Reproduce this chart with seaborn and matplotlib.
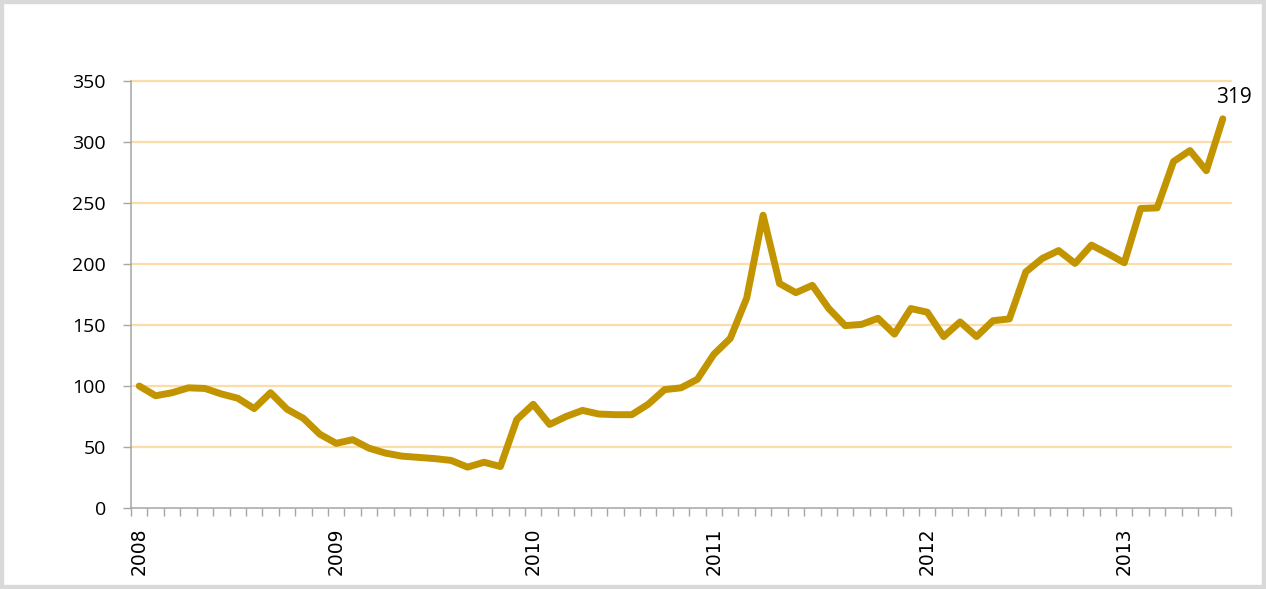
import pandas as pd
import seaborn as sns
import matplotlib.pyplot as plt
import matplotlib.ticker as ticker
from matplotlib.patches import Rectangle

# Monthly index values, Jan 2008 .. Jul 2013
values = [100, 92, 94.5, 98.5, 98, 93.5, 90, 81.5, 94.5, 81, 73.5, 60.5,
          53, 56, 49, 45, 42.5, 41.5, 40.5, 39, 33.5, 37.5, 34,
          72.5, 85, 68.5, 75, 80, 77, 76.5, 76.5, 85, 97, 98.5, 105.5,
          126, 139, 172, 240, 184, 176.5, 182.5, 163.5, 149.5, 150.5, 155.5,
          142.5, 163.5, 160.5, 140.5, 152.5, 140.5, 153.5, 155, 193.5, 204.5,
          211, 200.5, 215.5, 208.5, 201, 245.5, 246, 284, 293, 276.5, 319]
year_labels = ['2008', '2009', '2010', '2011', '2012', '2013']
year_pos = [0, 12, 24, 35, 48, 60]
y_ticks = [0, 50, 100, 150, 200, 250, 300, 350]

df = pd.DataFrame({'month': range(len(values)), 'value': values})

sns.set_style('white')
plt.rcParams['font.family'] = ['Open Sans', 'DejaVu Sans']

fig = plt.figure(figsize=(12.66, 5.89), dpi=100)
ax = fig.add_axes([131 / 1266, 81 / 589, 1100 / 1266, 427 / 589])

# light orange horizontal gridlines
for v in y_ticks[1:]:
    ax.axhline(v, color='#fddcab', lw=1.6, zorder=0, clip_on=False)

sns.lineplot(data=df, x='month', y='value', color='#c29400', linewidth=5,
             ax=ax, zorder=3)

ax.set_xlim(-0.5, len(values) - 0.5)
ax.set_ylim(0, 350)
ax.set_xlabel('')
ax.set_ylabel('')

ax.set_yticks(y_ticks)
ax.set_xticks(year_pos)
ax.set_xticklabels(year_labels, rotation=90, fontsize=13.5,
                   family='DejaVu Sans', va='top')
ax.xaxis.set_minor_locator(ticker.FixedLocator([i - 0.5 for i in range(len(values) + 1)]))

ax.tick_params(axis='y', which='major', length=6, width=1, color='#a6a6a6',
               pad=12, labelsize=14, labelcolor='black', left=True)
ax.tick_params(axis='x', which='major', length=0, pad=14, labelcolor='black')
ax.tick_params(axis='x', which='minor', length=6, width=1, color='#a6a6a6',
               bottom=True)

for side in ['top', 'right']:
    ax.spines[side].set_visible(False)
for side in ['left', 'bottom']:
    ax.spines[side].set_color('#a6a6a6')
    ax.spines[side].set_linewidth(1.1)

# last value label
ax.annotate(f'{values[-1]:.0f}', xy=(len(values) - 1, values[-1]),
            xytext=(8, 8), textcoords='offset points',
            ha='center', va='bottom', fontsize=15, color='black')

# grey frame around the whole chart
fig.patches.append(Rectangle((0, 0), 1, 1, transform=fig.transFigure,
                             fill=False, edgecolor='#d9d9d9', linewidth=6))

plt.savefig('out.png', dpi=100)
